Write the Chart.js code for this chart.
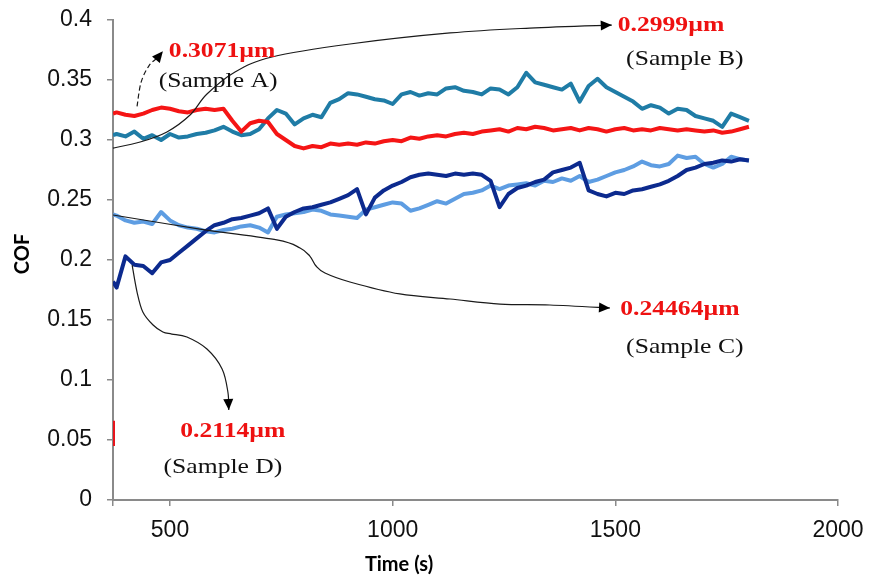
<!DOCTYPE html>
<html>
<head>
<meta charset="utf-8">
<script src="https://cdn.jsdelivr.net/npm/chart.js@4.4.0/dist/chart.umd.min.js"></script>
<style>
  html, body { margin: 0; padding: 0; background: #fff; }
</style>
</head>
<body>
<canvas id="cofChart" width="869" height="581"></canvas>
<script>
// ---------- data ----------
const X_MIN = 372;
const X_MAX = 2000;
const X_TICKS = [500, 1000, 1500, 2000];
const Y_TICKS = [0, 0.05, 0.1, 0.15, 0.2, 0.25, 0.3, 0.35, 0.4];

const TIME = [
  372, 380, 400, 420, 440, 460, 480, 500, 520, 540,
  560, 580, 600, 620, 640, 660, 680, 700, 720, 740,
  760, 780, 800, 820, 840, 860, 880, 900, 920, 940,
  960, 980, 1000, 1020, 1040, 1060, 1080, 1100, 1120, 1140,
  1160, 1180, 1200, 1220, 1240, 1260, 1280, 1300, 1320, 1340,
  1360, 1380, 1400, 1420, 1440, 1460, 1480, 1500, 1520, 1540,
  1560, 1580, 1600, 1620, 1640, 1660, 1680, 1700, 1720, 1740,
  1760, 1780, 1800
];

// Sample A (0.3071um)
const COF_A = [
  0.322, 0.323, 0.321, 0.320, 0.322, 0.325, 0.327, 0.326, 0.324, 0.323,
  0.325, 0.326, 0.325, 0.326, 0.316, 0.307, 0.314, 0.316, 0.315, 0.305,
  0.300, 0.295, 0.293, 0.295, 0.294, 0.297, 0.296, 0.297, 0.296, 0.298,
  0.297, 0.299, 0.300, 0.299, 0.302, 0.301, 0.303, 0.304, 0.303, 0.305,
  0.306, 0.305, 0.307, 0.308, 0.309, 0.307, 0.310, 0.309, 0.311, 0.310,
  0.308, 0.309, 0.310, 0.308, 0.310, 0.309, 0.307, 0.309, 0.310, 0.308,
  0.309, 0.308, 0.310, 0.309, 0.308, 0.309, 0.308, 0.307, 0.308, 0.306,
  0.307, 0.309, 0.311
];
const COF_A_STUB = [0.045, 0.066];

// Sample B (0.2999um)
const COF_B = [
  0.304, 0.305, 0.303, 0.307, 0.301, 0.304, 0.300, 0.305, 0.302, 0.303,
  0.305, 0.306, 0.308, 0.311, 0.307, 0.304, 0.305, 0.309, 0.318, 0.325,
  0.322, 0.313, 0.318, 0.321, 0.319, 0.331, 0.334, 0.339, 0.338, 0.336,
  0.334, 0.333, 0.330, 0.338, 0.340, 0.337, 0.339, 0.338, 0.343, 0.344,
  0.341, 0.340, 0.338, 0.343, 0.342, 0.338, 0.344, 0.356, 0.348, 0.346,
  0.344, 0.342, 0.347, 0.332, 0.345, 0.351, 0.344, 0.340, 0.336, 0.332,
  0.326, 0.329, 0.327, 0.322, 0.326, 0.325, 0.320, 0.318, 0.316, 0.311,
  0.322, 0.319, 0.316
];

// Sample D (0.2114um)
const COF_D = [
  0.182, 0.177, 0.203, 0.196, 0.195, 0.189, 0.198, 0.200, 0.206, 0.212,
  0.218, 0.224, 0.229, 0.231, 0.234, 0.235, 0.237, 0.239, 0.243, 0.226,
  0.236, 0.240, 0.243, 0.244, 0.246, 0.248, 0.251, 0.254, 0.259, 0.238,
  0.252, 0.258, 0.262, 0.265, 0.269, 0.271, 0.272, 0.271, 0.270, 0.272,
  0.271, 0.272, 0.271, 0.266, 0.244, 0.255, 0.260, 0.262, 0.265, 0.267,
  0.273, 0.275, 0.277, 0.281, 0.258, 0.255, 0.253, 0.256, 0.255, 0.258,
  0.259, 0.261, 0.263, 0.266, 0.270, 0.275, 0.277, 0.280, 0.281, 0.283,
  0.282, 0.284, 0.283
];

// Sample C (0.24464um)
const COF_C = [
  0.238, 0.237, 0.233, 0.231, 0.232, 0.230, 0.240, 0.233, 0.229, 0.227,
  0.226, 0.224, 0.223, 0.225, 0.226, 0.228, 0.229, 0.227, 0.223, 0.236,
  0.238, 0.239, 0.240, 0.242, 0.241, 0.238, 0.237, 0.236, 0.235, 0.242,
  0.244, 0.246, 0.248, 0.247, 0.241, 0.243, 0.246, 0.249, 0.247, 0.251,
  0.255, 0.256, 0.258, 0.262, 0.259, 0.262, 0.263, 0.264, 0.262, 0.266,
  0.265, 0.268, 0.266, 0.270, 0.265, 0.267, 0.270, 0.273, 0.275, 0.278,
  0.282, 0.279, 0.278, 0.280, 0.287, 0.285, 0.286, 0.280, 0.277, 0.280,
  0.286, 0.284, 0.283
];

// callouts: curve paths and labels in data units [time, cof]
const ARROWS = [
  { dashed: true,  path: [[426, 0.328], [435, 0.348], [453, 0.362], [473, 0.369], [484, 0.374]] },
  { dashed: false, path: [[372, 0.2933], [433, 0.2983], [493, 0.3067], [545, 0.3208], [583, 0.3383],
                          [646, 0.3567], [729, 0.3692], [904, 0.380], [1129, 0.3892], [1308, 0.3933], [1492, 0.3958]] },
  { dashed: false, path: [[372, 0.2375], [567, 0.2258], [740, 0.2167], [792, 0.210], [814, 0.2033],
                          [828, 0.195], [848, 0.1892], [904, 0.1817], [1016, 0.1717], [1129, 0.1675],
                          [1241, 0.1633], [1353, 0.1625], [1488, 0.160]] },
  { dashed: false, path: [[415, 0.1958], [426, 0.1733], [439, 0.1567], [462, 0.1458], [484, 0.140],
                          [504, 0.1383], [538, 0.1358], [583, 0.1258], [617, 0.1092], [630, 0.090],
                          [632, 0.075]] }
];

const LABELS = [
  { text: '0.3071\u00b5m',  at: [617, 0.374],  red: true },
  { text: '(Sample A)',     at: [608, 0.349],  red: false },
  { text: '0.2999\u00b5m',  at: [1625, 0.395], red: true },
  { text: '(Sample B)',     at: [1656, 0.3667], red: false },
  { text: '0.24464\u00b5m', at: [1645, 0.1583], red: true },
  { text: '(Sample C)',     at: [1656, 0.1275], red: false },
  { text: '0.2114\u00b5m',  at: [641, 0.0567], red: true },
  { text: '(Sample D)',     at: [619, 0.0275], red: false }
];

// ---------- helpers ----------
function toPoints(values) {
  return values.map((v, i) => ({ x: TIME[i], y: v }));
}

function smoothPath(ctx, p) {
  ctx.beginPath();
  ctx.moveTo(p[0][0], p[0][1]);
  for (let i = 0; i < p.length - 1; i++) {
    const p0 = p[i - 1] || p[i], p1 = p[i], p2 = p[i + 1], p3 = p[i + 2] || p2;
    ctx.bezierCurveTo(
      p1[0] + (p2[0] - p0[0]) / 6, p1[1] + (p2[1] - p0[1]) / 6,
      p2[0] - (p3[0] - p1[0]) / 6, p2[1] - (p3[1] - p1[1]) / 6,
      p2[0], p2[1]
    );
  }
}

function arrowHead(ctx, from, tip) {
  const ang = Math.atan2(tip[1] - from[1], tip[0] - from[0]);
  const len = 11, half = 5;
  ctx.beginPath();
  ctx.moveTo(tip[0], tip[1]);
  ctx.lineTo(tip[0] - len * Math.cos(ang) + half * Math.sin(ang), tip[1] - len * Math.sin(ang) - half * Math.cos(ang));
  ctx.lineTo(tip[0] - len * Math.cos(ang) - half * Math.sin(ang), tip[1] - len * Math.sin(ang) + half * Math.cos(ang));
  ctx.closePath();
  ctx.fill();
}

function stretchText(ctx, str, cx, cy, font, color, sx) {
  ctx.save();
  ctx.font = font;
  ctx.fillStyle = color;
  ctx.textAlign = 'center';
  ctx.textBaseline = 'middle';
  ctx.translate(cx, cy);
  ctx.scale(sx, 1);
  ctx.fillText(str, 0, 0);
  ctx.restore();
}

// callouts + axis titles
const calloutPlugin = {
  id: 'callouts',
  afterDatasetsDraw(chart) {
    const { ctx, scales: { x, y } } = chart;
    const toPx = p => [x.getPixelForValue(p[0]), y.getPixelForValue(p[1])];

    ctx.save();
    ctx.strokeStyle = '#1a1a1a';
    ctx.fillStyle = '#000';
    ctx.lineWidth = 1.2;
    ARROWS.forEach(a => {
      const pts = a.path.map(toPx);
      ctx.setLineDash(a.dashed ? [5, 3] : []);
      smoothPath(ctx, pts);
      ctx.stroke();
      ctx.setLineDash([]);
      arrowHead(ctx, pts[pts.length - 2], pts[pts.length - 1]);
    });

    LABELS.forEach(l => {
      const [cx, cy] = toPx(l.at);
      if (l.red) stretchText(ctx, l.text, cx, cy, 'bold 21px "Liberation Serif"', '#ee1111', 1.22);
      else stretchText(ctx, l.text, cx, cy, '21px "Liberation Serif"', '#111', 1.22);
    });

    // axis titles
    ctx.font = 'bold 20px Lato';
    ctx.fillStyle = '#000';
    ctx.textAlign = 'center';
    ctx.textBaseline = 'middle';
    ctx.fillText('Time (s)', 399, 565);
    ctx.translate(23, 254);
    ctx.rotate(-Math.PI / 2);
    ctx.fillText('COF', 0, 0);
    ctx.restore();
  }
};

const lineStyle = (color) => ({
  borderColor: color,
  backgroundColor: color,
  borderWidth: 4,
  pointRadius: 0,
  tension: 0,
  fill: false,
  borderJoinStyle: 'round'
});

new Chart(document.getElementById('cofChart'), {
  type: 'line',
  data: {
    datasets: [
      { label: 'A stub', data: COF_A_STUB.map(v => ({ x: X_MIN, y: v })), ...lineStyle('#e8141b') },
      { label: 'Sample A', data: toPoints(COF_A), ...lineStyle('#f51515') },
      { label: 'Sample D', data: toPoints(COF_D), ...lineStyle('#0c2a8e') },
      { label: 'Sample C', data: toPoints(COF_C), ...lineStyle('#5e9de2') },
      { label: 'Sample B', data: toPoints(COF_B), ...lineStyle('#1f7ca6') }
    ]
  },
  options: {
    responsive: false,
    animation: false,
    devicePixelRatio: 1,
    layout: { padding: { top: 20, right: 31, bottom: 0, left: 0 } },
    plugins: { legend: { display: false }, tooltip: { enabled: false } },
    scales: {
      x: {
        type: 'linear',
        min: X_MIN,
        max: X_MAX,
        afterFit: s => { s.height = 81; s.paddingLeft = 0; s.paddingRight = 0; },
        afterBuildTicks: s => { s.ticks = [X_MIN, ...X_TICKS].map(v => ({ value: v })); },
        grid: { drawOnChartArea: false, drawTicks: true, tickLength: 6, color: '#8a8a8a', lineWidth: 1.5 },
        border: { display: true, color: '#8a8a8a', width: 2 },
        ticks: {
          color: '#111',
          padding: 11,
          maxRotation: 0,
          autoSkip: false,
          font: { family: '"Liberation Sans", Arial, sans-serif', size: 23 },
          callback: v => X_TICKS.includes(v) ? String(v) : ''
        }
      },
      y: {
        min: 0,
        max: 0.4,
        afterFit: s => { s.width = 113; s.paddingTop = 0; s.paddingBottom = 0; },
        afterBuildTicks: s => { s.ticks = Y_TICKS.map(v => ({ value: v })); },
        grid: { drawOnChartArea: false, drawTicks: true, tickLength: 6, color: '#8a8a8a', lineWidth: 1.5 },
        border: { display: true, color: '#8a8a8a', width: 2 },
        ticks: {
          color: '#111',
          padding: 15,
          font: { family: '"Liberation Sans", Arial, sans-serif', size: 23 },
          callback: v => String(v)
        }
      }
    }
  },
  plugins: [calloutPlugin]
});
</script>
</body>
</html>
